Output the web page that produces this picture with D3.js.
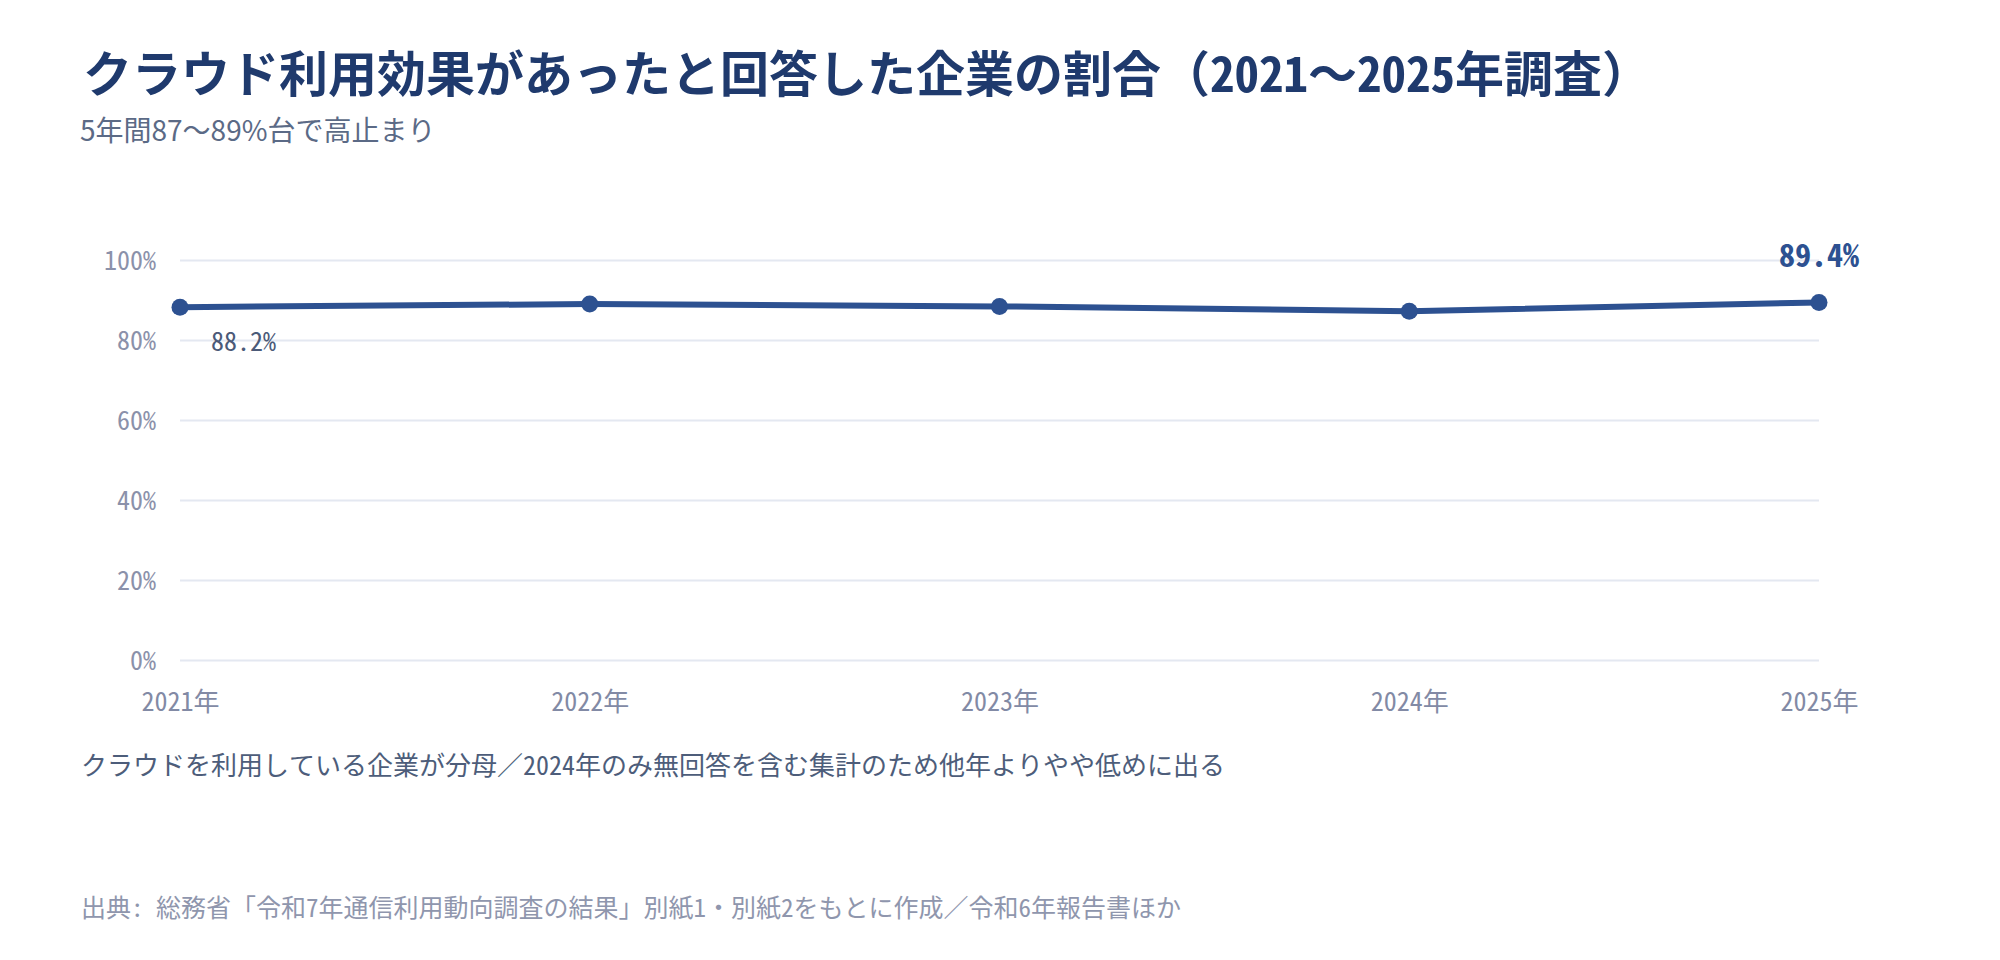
<!DOCTYPE html>
<html lang="ja">
<head>
<meta charset="utf-8">
<script src="https://cdn.jsdelivr.net/npm/d3@7"></script>
<style>
  body { margin: 0; background: #fff; }
  svg { display: block; }
  .mono { font-family: "Noto Sans Mono CJK JP", "Noto Sans CJK JP", monospace; }
  .sans { font-family: "Noto Sans CJK JP", "Noto Sans", sans-serif; }
</style>
</head>
<body>
<svg id="chart" width="2000" height="960"></svg>
<script>
"use strict";

// data
const years = ["2021年", "2022年", "2023年", "2024年", "2025年"];
const shares = [88.2, 89.0, 88.4, 87.2, 89.4];
const yTicks = [0, 20, 40, 60, 80, 100];

const titleText = "クラウド利用効果があったと回答した企業の割合（2021〜2025年調査）";
const subtitleText = "5年間87〜89%台で高止まり";
const noteText = "クラウドを利用している企業が分母／2024年のみ無回答を含む集計のため他年よりやや低めに出る";
const sourceText = "出典: 総務省「令和7年通信利用動向調査の結果」別紙1・別紙2をもとに作成／令和6年報告書ほか";

const svg = d3.select("#chart");
const plotLeft = 180, plotRight = 1819, plotTop = 260, plotBottom = 660;

const x = d3.scalePoint().domain(years).range([plotLeft, plotRight]);
const y = d3.scaleLinear().domain([0, 100]).range([plotBottom, plotTop]);

// header
svg.append("text").attr("class", "mono")
    .attr("x", 83).attr("y", 92)
    .attr("font-size", 49).attr("font-weight", 700)
    .attr("fill", "#1f3a6d")
    .text(titleText);

svg.append("text").attr("class", "sans")
    .attr("x", 80).attr("y", 141)
    .attr("font-size", 28)
    .attr("fill", "#5b6a86")
    .text(subtitleText);

// y grid + labels
const yAxis = svg.append("g")
    .attr("transform", `translate(${plotLeft},0)`)
    .call(d3.axisLeft(y).tickValues(yTicks)
        .tickSize(-(plotRight - plotLeft)).tickPadding(24)
        .tickFormat(d => d + "%"));
yAxis.select(".domain").remove();
yAxis.selectAll("line").attr("stroke", "#e4e8f1").attr("stroke-width", 2);
yAxis.selectAll("text").attr("class", "mono")
    .attr("font-size", 26).attr("fill", "#8b91aa").attr("dy", "0.38em");

// x labels
const xAxis = svg.append("g")
    .attr("transform", `translate(0,${plotBottom})`)
    .call(d3.axisBottom(x).tickSize(0));
xAxis.select(".domain").remove();
xAxis.selectAll("text").attr("class", "mono")
    .attr("font-size", 26).attr("fill", "#828aa5")
    .attr("y", 51).attr("dy", 0);

// line
const pts = years.map((d, i) => ({ year: d, v: shares[i] }));
const line = d3.line().x(d => x(d.year)).y(d => y(d.v));

svg.append("path").datum(pts)
    .attr("d", line)
    .attr("fill", "none")
    .attr("stroke", "#2d5191")
    .attr("stroke-width", 6)
    .attr("stroke-linejoin", "round");

svg.selectAll(".dot").data(pts).enter()
    .append("circle").attr("class", "dot")
    .attr("cx", d => x(d.year)).attr("cy", d => y(d.v))
    .attr("r", 8.5).attr("fill", "#2d5191");

// end labels
const first = pts[0], last = pts[pts.length - 1];
svg.append("text").attr("class", "mono")
    .attr("x", x(first.year) + 31).attr("y", y(first.v) + 44)
    .attr("font-size", 26).attr("fill", "#4b5a78")
    .text(first.v.toFixed(1) + "%");

svg.append("text").attr("class", "mono")
    .attr("x", x(last.year)).attr("y", y(last.v) - 35)
    .attr("text-anchor", "middle")
    .attr("font-size", 32).attr("font-weight", 700).attr("fill", "#2d5191")
    .text(last.v.toFixed(1) + "%");

// notes
svg.append("text").attr("class", "mono")
    .attr("x", 81).attr("y", 775)
    .attr("font-size", 26).attr("fill", "#4d5d7a")
    .text(noteText);

svg.append("text").attr("class", "mono")
    .attr("x", 81).attr("y", 917)
    .attr("font-size", 25).attr("fill", "#8f96ad")
    .text(sourceText);
</script>
</body>
</html>
